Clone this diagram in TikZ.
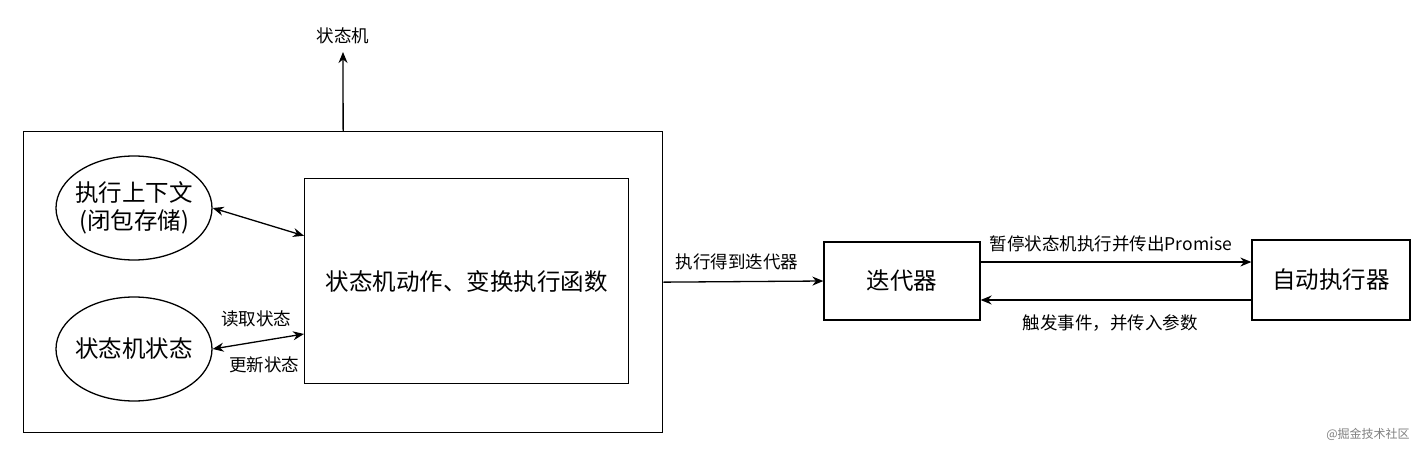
\documentclass[tikz,border=0pt]{standalone}
\usepackage{fontspec}
\setmainfont{Noto Sans CJK SC}
\usetikzlibrary{arrows.meta,shapes.geometric,calc}
\tikzset{
  box/.style={draw, line width=1.3pt, rectangle, inner sep=0pt},
  oval/.style={draw, line width=1.3pt, ellipse, inner sep=0pt, minimum width=156pt, minimum height=104pt},
  big/.style={font=\fontsize{23.5}{28}\selectfont, align=center, inner sep=0pt},
  lbl/.style={font=\fontsize{17.5}{21}\selectfont, inner sep=0pt},
  conn/.style={line width=1.3pt, -{Stealth[length=11pt,width=9pt]}},
  biconn/.style={line width=1.3pt, {Stealth[length=11pt,width=9pt]}-{Stealth[length=11pt,width=9pt]}},
}
\begin{document}
\begin{tikzpicture}[x=1pt,y=-1pt]
\useasboundingbox[fill=white] (0,0) rectangle (1428,450);
% outer box
\node[box, minimum width=639pt, minimum height=301pt, anchor=north west] (outer) at (23,131) {};
\node[lbl] (smlbl) at (343,36) {状态机};
\coordinate (smtip) at (343,52);
\draw[conn] (outer.north) -- (smtip);
% inner
\node[box, minimum width=324pt, minimum height=205pt, anchor=north west] (inner) at (304,178) {};
\node[big] (innertxt) at (inner.center) {状态机动作、变换执行函数};
\node[oval] (ctx) at (134,208) {};
\node[big] (ctxtxt) at (ctx.center) {执行上下文\\(闭包存储)};
\node[oval] (state) at (134,349) {};
\node[big] (statetxt) at (state.center) {状态机状态};
\draw[biconn] (ctx.east) -- ($(inner.north west)!0.28!(inner.south west)$);
\draw[biconn] (state.east) -- ($(inner.north west)!0.756!(inner.south west)$);
\node[lbl] (read) at (256,319) {读取状态};
\node[lbl] (update) at (264,365) {更新状态};
% right side
\node[box, minimum width=156pt, minimum height=78pt] (it) at (902,281) {};
\node[big] (ittxt) at (it.center) {迭代器};
\node[box, minimum width=158pt, minimum height=80pt] (auto) at (1331,280) {};
\node[big] (autotxt) at (auto.center) {自动执行器};
\draw[conn] (outer.east) -- (it.west);
\node[lbl] (getit) at (737,262) {执行得到迭代器};
\draw[conn] ([yshift=19pt]it.east) -- ([yshift=19pt]it.east -| auto.west);
\node[lbl] (pause) at (1111,244) {暂停状态机执行并传出Promise};
\draw[conn] ([yshift=-20pt]auto.west) -- ([yshift=-20pt]auto.west -| it.east);
\node[lbl] (trigger) at (1110,323) {触发事件，并传入参数};
\node[font=\fontsize{12}{14}\selectfont, text=gray, inner sep=0pt] (wm) at (1368,434) {@掘金技术社区};
\end{tikzpicture}
\end{document}
